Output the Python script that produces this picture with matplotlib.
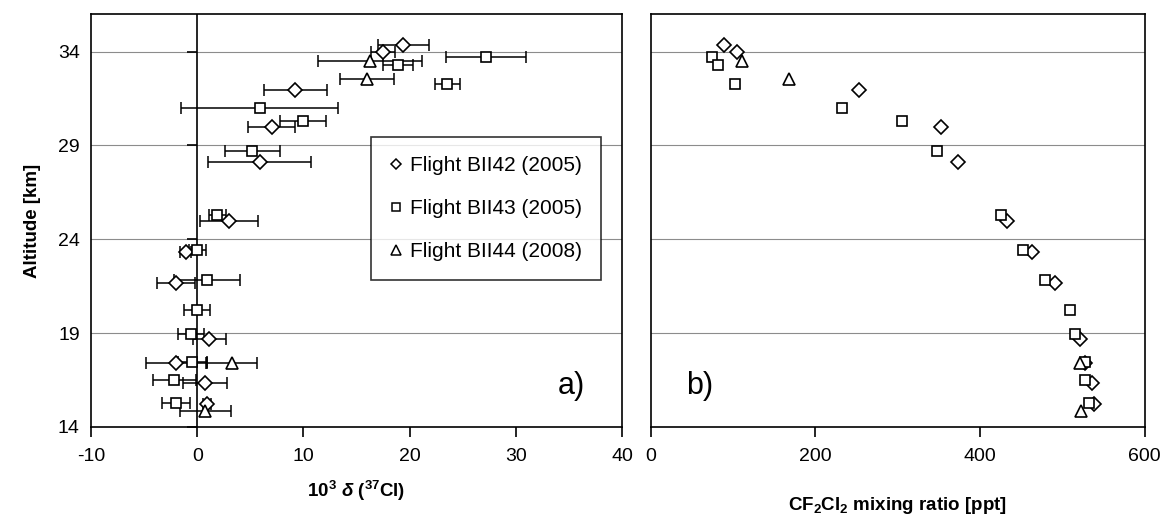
"""
Chlorine isotope profile (a) and CF2Cl2 mixing ratio (b) vs altitude.
"""

import matplotlib

matplotlib.use("Agg")
import matplotlib.pyplot as plt
import numpy as np

plt.rcParams["font.family"] = ["Liberation Sans", "DejaVu Sans"]
plt.rcParams["axes.unicode_minus"] = False
plt.rcParams["mathtext.fontset"] = "custom"
plt.rcParams["mathtext.rm"] = "Liberation Sans:bold"
plt.rcParams["mathtext.it"] = "Liberation Sans:bold:italic"
plt.rcParams["mathtext.bf"] = "Liberation Sans:bold"

# Flight BII42 (2005)
alt_42 = [34.37, 33.98, 31.94, 29.98, 28.13, 24.97, 23.35, 21.66, 18.69, 17.40, 16.33, 15.23]
delta_42 = [19.4, 17.5, 9.25, 7.0, 5.9, 3.0, -1.1, -2.0, 1.15, -2.0, 0.75, 0.9]
err_42 = [2.4, 1.15, 3.0, 2.2, 4.85, 2.7, 0.5, 1.75, 1.55, 2.85, 2.1, 0.4]
cfc_42 = [89, 105, 253, 353, 373, 433, 463, 491, 521, 528, 536, 539]

# Flight BII43 (2005)
alt_43 = [33.70, 33.27, 32.30, 31.00, 30.28, 28.72, 25.30, 23.42, 21.82, 20.26, 18.95, 17.45, 16.50, 15.28]
delta_43 = [27.2, 18.9, 23.55, 5.9, 9.95, 5.2, 1.9, 0.0, 0.9, 0.0, -0.6, -0.45, -2.15, -2.0]
err_43 = [3.75, 1.4, 1.2, 7.4, 2.15, 2.6, 0.8, 0.8, 3.1, 1.25, 1.25, 1.35, 2.0, 1.3]
cfc_43 = [74, 82, 102, 233, 305, 348, 425, 452, 479, 510, 516, 528, 528, 532]

# Flight BII44 (2008)
alt_44 = [33.48, 32.54, 17.42, 14.84]
delta_44 = [16.3, 16.0, 3.3, 0.75]
err_44 = [4.9, 2.55, 2.35, 2.4]
cfc_44 = [111, 168, 521, 523]

labels = ["Flight BII42 (2005)", "Flight BII43 (2005)", "Flight BII44 (2008)"]
alt_ticks = [14, 19, 24, 29, 34]

series = [
    (alt_42, delta_42, err_42, cfc_42, "D", 7.0),
    (alt_43, delta_43, err_43, cfc_43, "s", 7.8),
    (alt_44, delta_44, err_44, cfc_44, "^", 9.0),
]

fig = plt.figure(figsize=(11.62, 5.22), dpi=100)
ax1 = fig.add_axes([0.0783, 0.182, 0.457, 0.791])
ax2 = fig.add_axes([0.560, 0.182, 0.425, 0.791])

for ax in (ax1, ax2):
    ax.set_ylim(14, 36.0)
    ax.set_yticks(alt_ticks)
    for y in alt_ticks[1:]:
        ax.axhline(y, color="#8c8c8c", lw=0.8, zorder=0)
    for sp in ax.spines.values():
        sp.set_linewidth(1.2)
    ax.tick_params(axis="x", direction="out", length=7, width=1.2, labelsize=14, pad=8)

# panel a
handles = []
for (alt, d, e, c, m, ms), lab in zip(series, labels):
    ax1.errorbar(d, alt, xerr=e, fmt="none", ecolor="black", elinewidth=1.1,
                 capsize=4.5, capthick=1.1, zorder=3)
    h, = ax1.plot(d, alt, linestyle="none", marker=m, ms=ms, mfc="white",
                  mec="black", mew=1.2, zorder=4, label=lab)
    handles.append(h)

ax1.axvline(0, color="black", lw=1.2, zorder=2)
ax1.plot(np.zeros(len(alt_ticks)), alt_ticks, linestyle="none", marker=0,
         ms=7, mew=1.2, color="black", zorder=2, clip_on=False)
ax1.set_xlim(-10, 40)
ax1.set_xticks([-10, 0, 10, 20, 30, 40])
ax1.tick_params(axis="y", length=0, labelsize=14, pad=8)
ax1.set_ylabel("Altitude [km]", fontsize=13.5, fontweight="bold", labelpad=12)
ax1.set_xlabel(r"10$^{3}$ $\delta$ ($^{37}$Cl)", fontsize=13.5, fontweight="bold", labelpad=10)
ax1.text(0.905, 0.10, "a)", transform=ax1.transAxes, fontsize=22, ha="center", va="center")

leg = ax1.legend(handles=[plt.Line2D([], [], linestyle="none", marker=h.get_marker(),
                                     ms=h.get_markersize() * 0.75, mfc="white", mec="black", mew=1.1)
                          for h in handles],
                 labels=labels, loc="upper right", bbox_to_anchor=(0.96, 0.702),
                 fontsize=15, frameon=True, fancybox=False, handlelength=0.6,
                 handletextpad=0.35, labelspacing=1.15, borderpad=0.9, borderaxespad=0)
leg.get_frame().set_edgecolor("black")
leg.get_frame().set_linewidth(1.2)

# panel b
for alt, d, e, c, m, ms in series:
    ax2.plot(c, alt, linestyle="none", marker=m, ms=ms, mfc="white",
             mec="black", mew=1.2, zorder=4)
ax2.set_xlim(0, 600)
ax2.set_xticks([0, 200, 400, 600])
ax2.tick_params(axis="y", length=0, labelleft=False)
ax2.set_xlabel(r"CF$_2$Cl$_2$ mixing ratio [ppt]", fontsize=13.5, fontweight="bold", labelpad=22)
ax2.text(0.1, 0.10, "b)", transform=ax2.transAxes, fontsize=22, ha="center", va="center")

fig.savefig("out.png", dpi=100)
plt.close(fig)
